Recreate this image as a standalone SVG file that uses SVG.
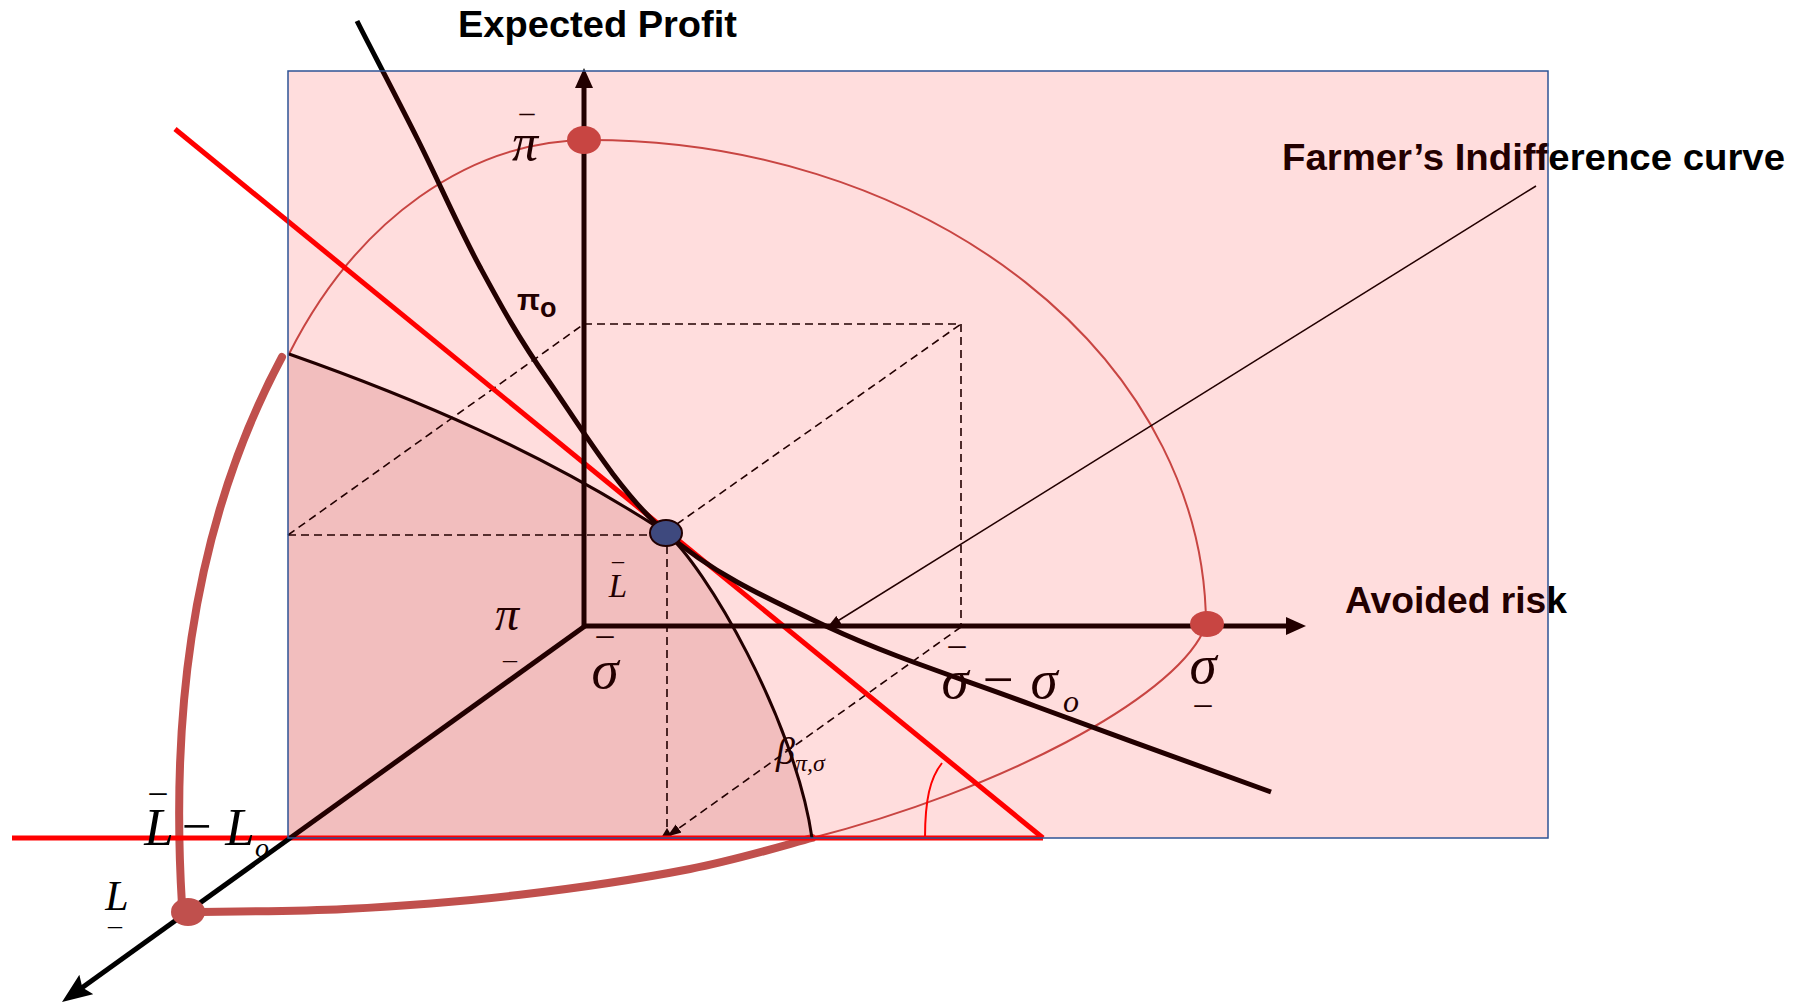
<svg xmlns="http://www.w3.org/2000/svg" width="1804" height="1007" viewBox="0 0 1804 1007">
<defs>
<style>
.bold{font-family:"Liberation Sans",Arial,sans-serif;font-weight:bold;font-size:37px;fill:#000}
.math{font-family:"Liberation Serif","Times New Roman",serif;font-style:italic;fill:#000}
.bar{font-family:"Liberation Serif","Times New Roman",serif;fill:#000;text-anchor:middle}
.sans{font-family:"Liberation Sans",Arial,sans-serif;fill:#000;font-weight:bold}
.dash{fill:none;stroke:#000;stroke-width:1.6;stroke-dasharray:8 5}
.axis{fill:none;stroke:#000;stroke-width:5}
.rb{fill:none;stroke:#C0504D;stroke-linecap:round}
.dot{fill:#C0504D}
</style>
<marker id="ahAxis" markerUnits="userSpaceOnUse" viewBox="0 0 20 18" refX="8" refY="9" markerWidth="20" markerHeight="18" orient="auto"><path d="M0,0 L20,9 L0,18 Z" fill="#000"/></marker>
<marker id="ahBig" markerUnits="userSpaceOnUse" viewBox="0 0 30 24" refX="14" refY="12" markerWidth="30" markerHeight="24" orient="auto"><path d="M0,0 L30,12 L0,24 L5,12 Z" fill="#000"/></marker>
<marker id="ahSmall" markerUnits="userSpaceOnUse" viewBox="0 0 14 10" refX="13" refY="5" markerWidth="14" markerHeight="10" orient="auto"><path d="M0,0 L14,5 L0,10 Z" fill="#000"/></marker>
</defs>
<rect width="1804" height="1007" fill="#fff"/>
<g id="shaded-region">
<path d="M289,354 C414,398 540,451 665,532 C705,565 795,720 812,838 L288,838 L288,354 Z" fill="#F0DCDC"/>
</g>
<g id="connectors">
<line class="dash" x1="288" y1="535" x2="650" y2="535"/>
<line class="dash" x1="667" y1="546" x2="667" y2="832"/>
<path d="M661,838 L673,838 L667,828 Z" fill="#000"/>
<line class="dash" x1="288" y1="535" x2="584" y2="324"/>
<line class="dash" x1="584" y1="324" x2="961" y2="324"/>
<line class="dash" x1="961" y1="324" x2="961" y2="627"/>
<line class="dash" x1="677" y1="524" x2="961" y2="324"/>
<line class="dash" x1="961" y1="627" x2="668" y2="836" marker-end="url(#ahSmall)"/>
<path class="rb" stroke-width="2" d="M289,354 A363,486 0 0 1 590,140 A616,486 0 0 1 1206,626"/>
<path class="rb" stroke-width="2" d="M1203,632 C1170,700 1000,790 812,838"/>
<path class="rb" stroke-width="8" d="M812,838 C791.7,843.2 739,859.5 690,869 C641,878.5 575.5,888.3 518,895 C460.5,901.7 399.7,906.2 345,909 C290.3,911.8 215.8,911.5 190,912"/>
<path class="rb" stroke-width="8" d="M182,905 C172,740 184,540 282,357"/>
<line x1="12" y1="838" x2="1043" y2="838" stroke="#F00" stroke-width="5"/>
<line x1="175" y1="129" x2="1043" y2="838" stroke="#F00" stroke-width="5"/>
<path d="M942,763 C930,778 925,800 925,838" fill="none" stroke="#F00" stroke-width="2"/>
<path d="M289,354 C414,398 540,451 665,532 C705,565 795,720 812,838" fill="none" stroke="#000" stroke-width="3"/>
<path d="M357,21 C367,41 397.5,99 418,140 C438.5,181 458.3,227 480,267 C501.7,307 517.2,335.8 548,380 C578.8,424.2 618.3,490.8 665,532 C711.7,573.2 766.3,598 828,627 C889.7,656 961.2,678.5 1035,706 C1108.8,733.5 1231.7,777.7 1271,792" fill="none" stroke="#000" stroke-width="5"/>
<line class="axis" x1="584" y1="626" x2="584" y2="80" marker-end="url(#ahAxis)"/>
<line class="axis" x1="582" y1="626" x2="1294" y2="626" marker-end="url(#ahAxis)"/>
<line class="axis" stroke-width="6" x1="585" y1="626" x2="75" y2="992.7" marker-end="url(#ahBig)"/>
<line x1="1536" y1="186" x2="828" y2="627" stroke="#000" stroke-width="1.5" marker-end="url(#ahSmall)"/>
</g>
<g id="point-pi-bar"><ellipse class="dot" cx="584" cy="140" rx="17" ry="14"/></g>
<g id="point-sigma-bar"><ellipse class="dot" cx="1207" cy="624" rx="17" ry="13"/></g>
<g id="point-L-bar"><ellipse class="dot" cx="188" cy="912" rx="17" ry="14"/></g>
<g id="point-optimum"><ellipse cx="666" cy="533" rx="16" ry="13" fill="#215592" stroke="#000" stroke-width="2"/></g>
<g id="labels">
<text class="bold" x="458" y="37" textLength="279" lengthAdjust="spacingAndGlyphs">Expected Profit</text>
<text class="bold" x="1282" y="170" textLength="503" lengthAdjust="spacingAndGlyphs">Farmer’s Indifference curve</text>
<text class="bold" x="1345" y="613" textLength="222" lengthAdjust="spacingAndGlyphs">Avoided risk</text>
<text class="bar" x="527" y="122" font-size="30">–</text>
<text class="math" x="525" y="160" font-size="52" text-anchor="middle">π</text>
<text class="sans" x="517" y="310" font-size="30">π<tspan font-size="27" dy="7">o</tspan></text>
<text class="bar" x="618" y="568" font-size="24">–</text>
<text class="math" x="618" y="597" font-size="33" text-anchor="middle">L</text>
<text class="math" x="507" y="630" font-size="48" text-anchor="middle">π</text>
<text class="bar" x="510" y="668" font-size="28">–</text>
<text class="bar" x="605" y="645" font-size="34">–</text>
<text class="math" x="605" y="688" font-size="55" text-anchor="middle">σ</text>
<text class="bar" x="957" y="655" font-size="34">–</text>
<text class="math" x="955" y="698" font-size="55" text-anchor="middle">σ</text>
<text class="bar" x="998" y="698" font-size="55">−</text>
<text class="math" x="1044" y="698" font-size="55" text-anchor="middle">σ</text>
<text class="math" x="1063" y="712" font-size="32">o</text>
<text class="math" x="1203" y="683" font-size="55" text-anchor="middle">σ</text>
<text class="bar" x="1203" y="714" font-size="34">–</text>
<text class="math" x="776" y="764" font-size="38">β<tspan font-size="24" dy="7">π,σ</tspan></text>
<text class="bar" x="158" y="802" font-size="34">–</text>
<text class="math" x="159" y="845" font-size="53" text-anchor="middle">L</text>
<text class="bar" x="197" y="844" font-size="53">−</text>
<text class="math" x="240" y="845" font-size="53" text-anchor="middle">L</text>
<text class="math" x="255" y="857" font-size="28">o</text>
<text class="math" x="117" y="910" font-size="42" text-anchor="middle">L</text>
<text class="bar" x="115" y="934" font-size="28">–</text>
</g>
<g id="chart-area">
<rect x="288" y="71" width="1260" height="767" fill="#F00" fill-opacity="0.133" stroke="#2E5395" stroke-width="1.5"/>
</g>
</svg>
